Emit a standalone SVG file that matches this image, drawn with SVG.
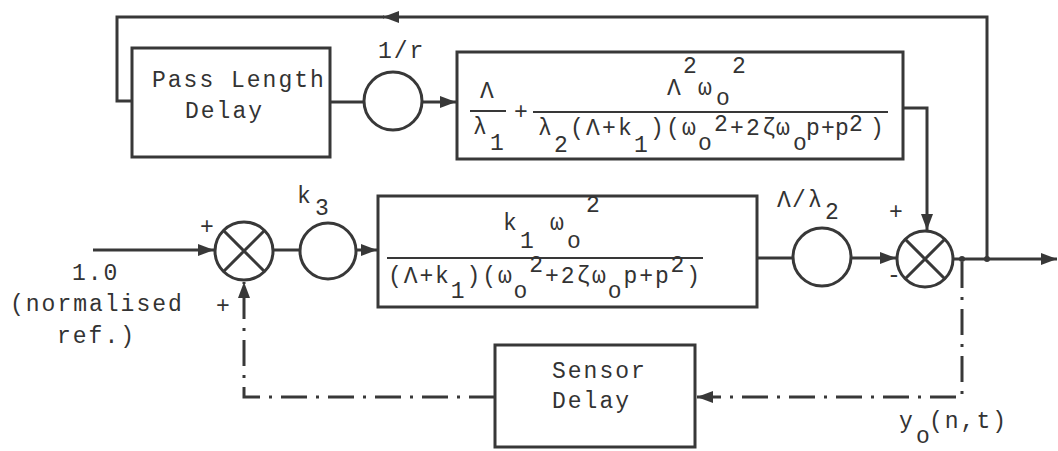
<svg xmlns="http://www.w3.org/2000/svg" width="1058" height="451" viewBox="0 0 1058 451">
<defs>
<style>
.ln{fill:none;stroke:#383838;stroke-width:3}
.dd{fill:none;stroke:#383838;stroke-width:3;stroke-dasharray:26 9 3 9}
.bx{fill:#fff;stroke:#383838;stroke-width:3}
.bar{stroke:#383838;stroke-width:2}
.t{font-family:"Liberation Mono","DejaVu Sans Mono",monospace;font-size:23px;fill:#333;letter-spacing:2px}
.f{font-family:"Liberation Mono","DejaVu Sans Mono",monospace;font-size:23px;fill:#333}
</style>
<marker id="arr" markerUnits="userSpaceOnUse" markerWidth="18" markerHeight="12" refX="16" refY="6" orient="auto">
<path d="M0,0 L16,6 L0,12 z" fill="#383838"/>
</marker>
</defs>
<rect width="1058" height="451" fill="#fff"/>

<g id="connectors">
<path class="ln" d="M93,250 H214" marker-end="url(#arr)"/>
<path class="ln" d="M273,250 H300"/>
<path class="ln" d="M356,250 H377" marker-end="url(#arr)"/>
<path class="ln" d="M757,258 H793"/>
<path class="ln" d="M851,258 H896" marker-end="url(#arr)"/>
<path class="ln" d="M953,259 H1057" marker-end="url(#arr)"/>
<path class="ln" d="M903,108 H927 V230" marker-end="url(#arr)"/>
<path class="ln" d="M987,259 V17 H383" marker-end="url(#arr)"/>
<path class="ln" d="M384,17 H117 V101 H132"/>
<path class="ln" d="M330,102 H364"/>
<path class="ln" d="M422,102 H456" marker-end="url(#arr)"/>
<path class="dd" d="M962,262 V397 H697" marker-end="url(#arr)"/>
<path class="dd" d="M495,397 H244 V282" marker-end="url(#arr)"/>
<circle cx="962" cy="259" r="3" fill="#383838"/>
<circle cx="987" cy="259" r="3" fill="#383838"/>
</g>

<g id="input-label">
<text class="t" x="72" y="280">1.0</text>
<text class="t" x="10" y="311">(normalised</text>
<text class="t" x="57" y="343">ref.)</text>
</g>

<g id="sum1">
<circle class="bx" cx="244" cy="251" r="29"/>
<path class="ln" d="M224,231 L264,271 M264,231 L224,271"/>
<text class="f" x="200" y="234">+</text>
<text class="f" x="216" y="313">+</text>
</g>

<g id="gain-k3">
<circle class="bx" cx="328" cy="251" r="28"/>
<text class="f" x="297" y="203">k</text>
<text class="f" x="315" y="215">3</text>
</g>

<g id="plant">
<rect class="bx" x="378" y="196" width="379" height="111"/>
<text class="f"><tspan x="503" y="230">k</tspan><tspan x="520" y="248">1</tspan><tspan x="550" y="230">ω</tspan><tspan x="567" y="248">o</tspan><tspan x="586" y="212">2</tspan></text>
<line class="bar" x1="387" y1="258" x2="703" y2="258"/>
<text class="f"><tspan x="388" y="283">(</tspan><tspan x="403.7" y="283">Λ</tspan><tspan x="419.4" y="283">+</tspan><tspan x="435.1" y="283">k</tspan><tspan x="450.8" y="298">1</tspan><tspan x="466.5" y="283">)</tspan><tspan x="482.2" y="283">(</tspan><tspan x="497.9" y="283">ω</tspan><tspan x="513.6" y="298">o</tspan><tspan x="529.3" y="272">2</tspan><tspan x="545" y="283">+</tspan><tspan x="560.7" y="283">2</tspan><tspan x="576.4" y="283">ζ</tspan><tspan x="592.1" y="283">ω</tspan><tspan x="607.8" y="298">o</tspan><tspan x="623.5" y="283">p</tspan><tspan x="639.2" y="283">+</tspan><tspan x="654.9" y="283">p</tspan><tspan x="670.6" y="272">2</tspan><tspan x="686.3" y="283">)</tspan></text>
</g>

<g id="gain-lambda">
<circle class="bx" cx="822" cy="257" r="29"/>
<text class="f"><tspan x="777" y="207">Λ</tspan><tspan x="792" y="207">/</tspan><tspan x="808" y="207">λ</tspan><tspan x="825" y="219">2</tspan></text>
</g>

<g id="sum2">
<circle class="bx" cx="925" cy="259" r="28"/>
<path class="ln" d="M905,239 L945,279 M945,239 L905,279"/>
<text class="f" x="889" y="219">+</text>
<text class="f" x="887" y="282">-</text>
</g>

<g id="pass-length-delay">
<rect class="bx" x="132" y="48" width="198" height="109"/>
<text class="t" x="152" y="87">Pass Length</text>
<text class="t" x="185" y="118">Delay</text>
</g>

<g id="gain-r">
<circle class="bx" cx="393" cy="101" r="29"/>
<text class="t" x="378" y="58">1/r</text>
</g>

<g id="pass-dynamics">
<rect class="bx" x="457" y="52" width="446" height="107"/>
<text class="f" x="480" y="98">Λ</text>
<line class="bar" x1="470" y1="111" x2="506" y2="111"/>
<text class="f"><tspan x="473" y="134">λ</tspan><tspan x="490" y="150">1</tspan></text>
<text class="f" x="514" y="119">+</text>
<line class="bar" x1="533" y1="112" x2="888" y2="112"/>
<text class="f"><tspan x="667" y="95">Λ</tspan><tspan x="683" y="73">2</tspan><tspan x="698" y="95">ω</tspan><tspan x="716" y="105">o</tspan><tspan x="732" y="73">2</tspan></text>
<text class="f"><tspan x="538" y="135">λ</tspan><tspan x="554" y="152">2</tspan><tspan x="570" y="135">(</tspan><tspan x="586" y="135">Λ</tspan><tspan x="602" y="135">+</tspan><tspan x="618" y="135">k</tspan><tspan x="634" y="152">1</tspan><tspan x="650" y="135">)</tspan><tspan x="666" y="135">(</tspan><tspan x="682" y="135">ω</tspan><tspan x="698" y="150">o</tspan><tspan x="714" y="131">2</tspan><tspan x="730" y="135">+</tspan><tspan x="746" y="135">2</tspan><tspan x="762" y="135">ζ</tspan><tspan x="776" y="135">ω</tspan><tspan x="793" y="150">o</tspan><tspan x="806" y="135">p</tspan><tspan x="821" y="135">+</tspan><tspan x="835" y="135">p</tspan><tspan x="849" y="131">2</tspan><tspan x="870" y="135">)</tspan></text>
</g>

<g id="sensor-delay">
<rect class="bx" x="495" y="345" width="200" height="102"/>
<text class="t" x="552" y="378">Sensor</text>
<text class="t" x="552" y="408">Delay</text>
</g>

<g id="output-label">
<text class="f"><tspan x="899" y="428">y</tspan><tspan x="916" y="443">o</tspan><tspan x="929" y="428" letter-spacing="2">(n,t)</tspan></text>
</g>
</svg>
